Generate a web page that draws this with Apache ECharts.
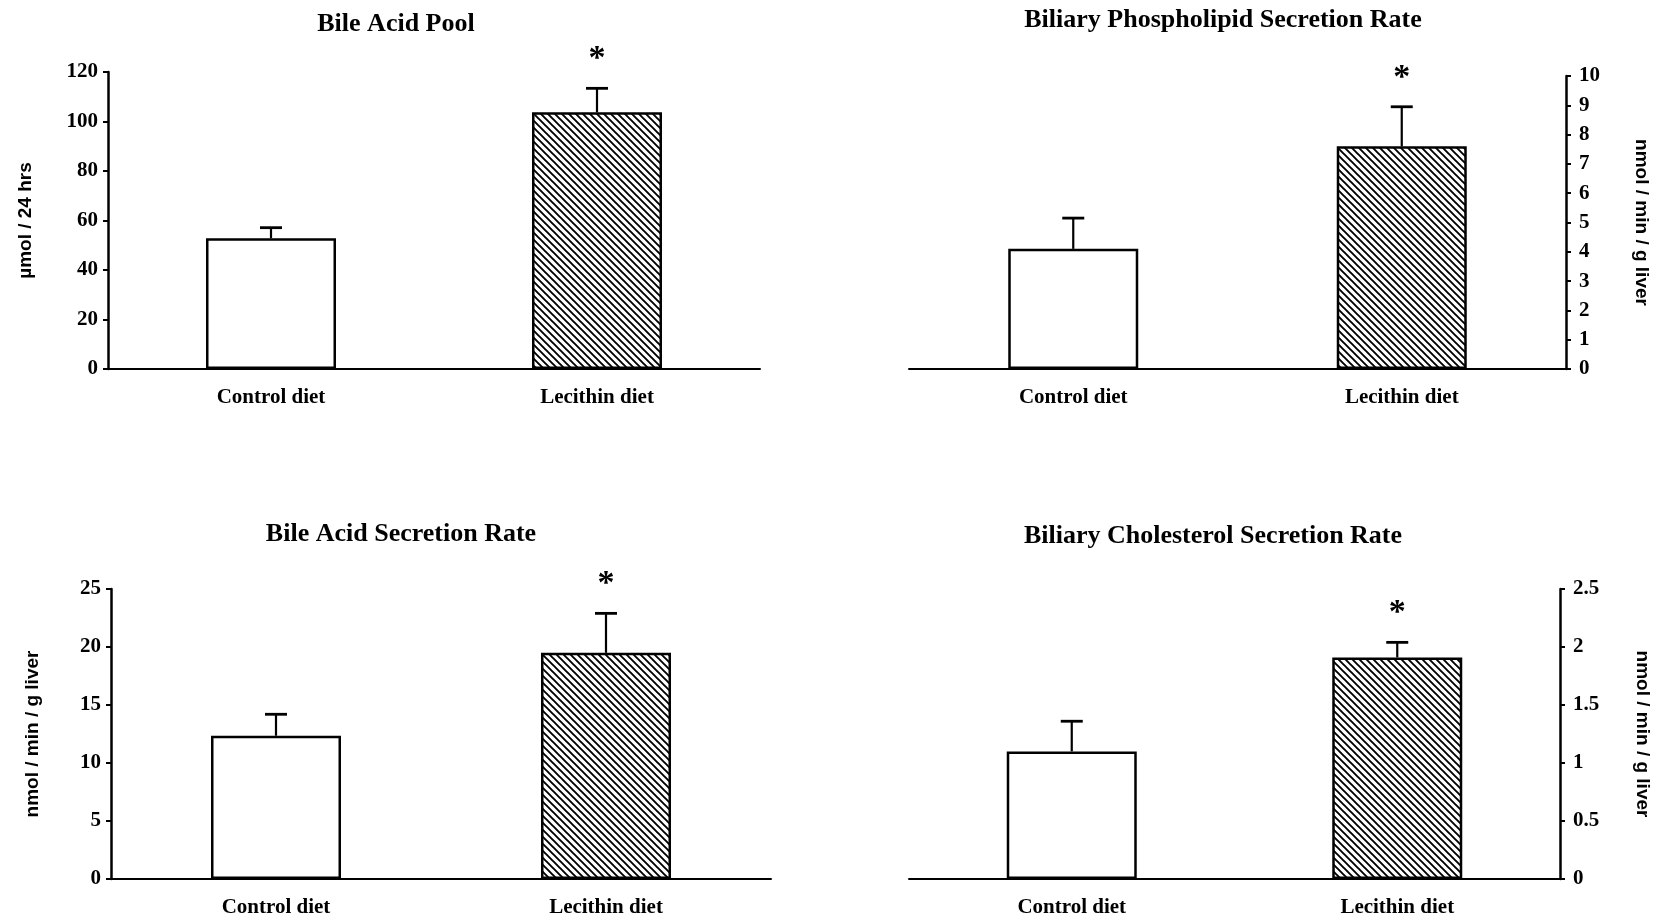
<!DOCTYPE html>
<html>
<head>
<meta charset="utf-8">
<script src="https://cdn.jsdelivr.net/npm/echarts@6/dist/echarts.min.js"></script>
<style>
html,body{margin:0;padding:0;background:#fff;}
#chart{width:1663px;height:924px;}
</style>
</head>
<body>
<div id="chart"></div>
<script>
// ---- data ----
var categories = ['Control diet', 'Lecithin diet'];
var significant = [0, 1];

var poolTitle = 'Bile Acid Pool';
var poolUnit = 'µmol / 24 hrs';
var poolMean = [52.8, 103.7];
var poolErr = [4.3, 9.7];
var poolTicks = {min: 0, max: 120, interval: 20};

var phosTitle = 'Biliary Phospholipid Secretion Rate';
var phosUnit = 'nmol / min / g liver';
var phosMean = [4.1, 7.6];
var phosErr = [1.05, 1.35];
var phosTicks = {min: 0, max: 10, interval: 1};

var baSecTitle = 'Bile Acid Secretion Rate';
var baSecUnit = 'nmol / min / g liver';
var baSecMean = [12.35, 19.5];
var baSecErr = [1.85, 3.4];
var baSecTicks = {min: 0, max: 25, interval: 5};

var cholTitle = 'Biliary Cholesterol Secretion Rate';
var cholUnit = 'nmol / min / g liver';
var cholMean = [1.1, 1.91];
var cholErr = [0.26, 0.13];
var cholTicks = {min: 0, max: 2.5, interval: 0.5};

// ---- styling helpers ----
var SERIF = '"Liberation Serif", "Times New Roman", serif';
var SANS = '"Liberation Sans", Arial, sans-serif';

function hatchCanvas() {
  var s = 7;
  var c = document.createElement('canvas');
  c.width = s; c.height = s;
  var g = c.getContext('2d');
  g.fillStyle = '#fff';
  g.fillRect(0, 0, s, s);
  g.strokeStyle = '#000';
  g.lineWidth = 1.9;
  g.beginPath();
  g.moveTo(-2, -2); g.lineTo(s + 2, s + 2);
  g.moveTo(-2, s - 2); g.lineTo(2, s + 2);
  g.moveTo(s - 2, -2); g.lineTo(s + 2, 2);
  g.stroke();
  return c;
}
var hatch = {image: hatchCanvas(), repeat: 'repeat'};

var panels = [
  {title: poolTitle, unit: poolUnit, mean: poolMean, err: poolErr, ticks: poolTicks,
   grid: {left: 108, top: 72, width: 652, height: 297}, side: 'left', nameGap: 73,
   titlePos: [396, 24]},
  {title: phosTitle, unit: phosUnit, mean: phosMean, err: phosErr, ticks: phosTicks,
   grid: {left: 909, top: 76, width: 657, height: 293}, side: 'right', nameGap: 66,
   titlePos: [1223, 20]},
  {title: baSecTitle, unit: baSecUnit, mean: baSecMean, err: baSecErr, ticks: baSecTicks,
   grid: {left: 111, top: 589, width: 660, height: 290}, side: 'left', nameGap: 69,
   titlePos: [401, 534]},
  {title: cholTitle, unit: cholUnit, mean: cholMean, err: cholErr, ticks: cholTicks,
   grid: {left: 909, top: 589, width: 651, height: 290}, side: 'right', nameGap: 73,
   titlePos: [1213, 536]}
];

var option = {
  backgroundColor: '#fff',
  animation: false,
  title: [], grid: [], xAxis: [], yAxis: [], series: []
};

panels.forEach(function (p, i) {
  option.title.push({
    text: p.title, left: p.titlePos[0], top: p.titlePos[1],
    textAlign: 'center', textVerticalAlign: 'middle', padding: 0,
    textStyle: {fontFamily: SERIF, fontWeight: 'bold', fontSize: 26, color: '#000'}
  });
  option.grid.push(Object.assign({containLabel: false}, p.grid));
  option.xAxis.push({
    type: 'category', gridIndex: i, data: categories,
    axisLine: {show: true, onZero: false, lineStyle: {color: '#000', width: 2}},
    axisTick: {show: false},
    axisLabel: {margin: 18, color: '#000', fontFamily: SERIF, fontWeight: 'bold', fontSize: 21}
  });
  option.yAxis.push({
    type: 'value', gridIndex: i, position: p.side,
    min: p.ticks.min, max: p.ticks.max, interval: p.ticks.interval,
    splitLine: {show: false},
    axisLine: {show: true, lineStyle: {color: '#000', width: 2.5}},
    axisTick: {show: true, length: 5, lineStyle: {color: '#000', width: 2}},
    axisLabel: {margin: p.side === 'left' ? 10 : 13, color: '#000', fontFamily: SERIF, fontWeight: 'bold', fontSize: 21},
    name: p.unit, nameLocation: 'middle', nameGap: p.nameGap,
    nameRotate: p.side === 'left' ? 90 : -90,
    nameTextStyle: {color: '#000', fontFamily: SANS, fontWeight: 'bold', fontSize: 19}
  });
  option.series.push({
    type: 'bar', xAxisIndex: i, yAxisIndex: i, barWidth: 130,
    data: p.mean.map(function (v, k) {
      return {value: v, itemStyle: {color: k === 1 ? hatch : '#fff'}};
    }),
    itemStyle: {borderColor: '#000', borderWidth: 2.5},
    emphasis: {disabled: true}
  });
  option.series.push({
    type: 'custom', xAxisIndex: i, yAxisIndex: i, z: 5,
    data: p.mean.map(function (v, k) { return [k, v, p.err[k], significant[k]]; }),
    renderItem: function (params, api) {
      var x = api.value(0), v = api.value(1), e = api.value(2), sig = api.value(3);
      var base = api.coord([x, v]);
      var top = api.coord([x, v + e]);
      var st = {stroke: '#000', lineWidth: 2.2};
      var children = [
        {type: 'line', shape: {x1: base[0], y1: base[1], x2: top[0], y2: top[1]}, style: st},
        {type: 'line', shape: {x1: top[0] - 11, y1: top[1], x2: top[0] + 11, y2: top[1]}, style: {stroke: '#000', lineWidth: 2.8}}
      ];
      if (sig) {
        children.push({type: 'text', x: top[0], y: top[1] - 29,
          style: {text: '*', align: 'center', verticalAlign: 'middle', fill: '#000',
                  font: 'bold 34px ' + SERIF}});
      }
      return {type: 'group', children: children};
    }
  });
});

var chart = echarts.init(document.getElementById('chart'), null, {renderer: 'canvas'});
chart.setOption(option);
</script>
</body>
</html>
